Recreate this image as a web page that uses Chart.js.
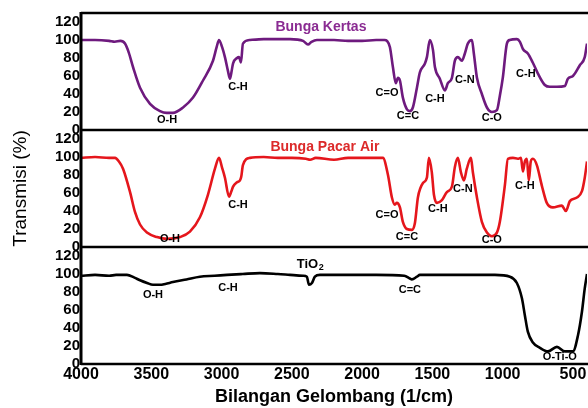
<!DOCTYPE html>
<html>
<head>
<meta charset="utf-8">
<script src="https://cdn.jsdelivr.net/npm/chart.js@4.4.1/dist/chart.umd.min.js"></script>
<style>
  html, body { margin: 0; padding: 0; background: #fff; }
  #wrap { position: relative; width: 588px; height: 408px; }
</style>
</head>
<body>
<div id="wrap"><canvas id="irChart"></canvas></div>
<script>
// Wavenumber ticks and transmittance ticks
var xTicks = [4000, 3500, 3000, 2500, 2000, 1500, 1000, 500];
var yTicks = [0, 20, 40, 60, 80, 100, 120];

// Bunga Kertas (purple)
var kertasWn = [4000, 3900, 3800, 3760, 3720, 3687, 3660, 3630, 3580, 3509, 3438, 3390, 3346, 3274, 3203, 3132, 3061, 3035, 3018, 2996,
  2976, 2955, 2940, 2930, 2918, 2890, 2876, 2862, 2848, 2798, 2700, 2600, 2513, 2420, 2385, 2360, 2321, 2200, 2100, 2000,
  1900, 1840, 1823, 1802, 1781, 1760, 1745, 1731, 1710, 1681, 1660, 1639, 1610, 1589, 1553, 1539, 1518, 1496, 1482, 1447,
  1411, 1390, 1361, 1340, 1319, 1290, 1269, 1248, 1219, 1205, 1183, 1148, 1112, 1077, 1041, 1020, 999, 970, 950, 899,
  877, 856, 821, 786, 750, 700, 664, 614, 557, 536, 500, 451, 416, 400];
var kertasT = [100, 100, 99, 98, 99, 96, 86, 70, 47, 29, 21, 19, 19, 25, 36, 55, 77, 92, 100, 92,
  81, 66, 57, 64, 74, 80, 81, 75, 96, 100, 101, 101, 101, 99, 95, 98, 100, 100, 99, 99,
  100, 100, 99, 92, 70, 52, 58, 55, 36, 23, 21, 25, 47, 64, 74, 81, 100, 89, 70, 57,
  44, 52, 58, 77, 81, 77, 85, 96, 100, 85, 58, 40, 25, 20, 22, 38, 58, 96, 100, 101,
  98, 90, 85, 75, 63, 50, 48, 48, 49, 57, 60, 72, 81, 96];

// Bunga Pacar Air (red)
var pacarWn = [4000, 3900, 3800, 3758, 3730, 3701, 3651, 3616, 3580, 3531, 3459, 3388, 3296, 3225, 3154, 3097, 3047, 3018, 2996, 2976,
  2947, 2930, 2918, 2890, 2869, 2860, 2848, 2798, 2700, 2600, 2500, 2400, 2370, 2330, 2200, 2100, 1950, 1852, 1816, 1788,
  1767, 1753, 1731, 1710, 1681, 1646, 1624, 1603, 1567, 1539, 1525, 1504, 1489, 1468, 1432, 1397, 1361, 1340, 1319, 1297,
  1276, 1255, 1226, 1212, 1183, 1148, 1112, 1077, 1041, 1020, 984, 963, 927, 892, 870, 856, 842, 828, 814, 800,
  785, 757, 721, 686, 643, 579, 550, 522, 472, 436, 416, 400];
var pacarT = [99, 100, 99, 99, 95, 87, 61, 39, 25, 16, 11, 9, 11, 17, 33, 58, 87, 99, 88, 77,
  56, 62, 67, 72, 74, 78, 91, 99, 100, 99, 99, 98, 97, 99, 97, 99, 99, 99, 80, 55,
  47, 49, 44, 28, 20, 19, 27, 55, 71, 77, 99, 83, 58, 49, 52, 61, 67, 89, 99, 83,
  74, 87, 99, 83, 55, 28, 16, 12, 16, 28, 69, 98, 99, 98, 99, 84, 95, 98, 74, 95,
  98, 91, 68, 49, 44, 46, 40, 51, 55, 62, 77, 95];

// TiO2 (black)
var tioWn = [4000, 3900, 3800, 3750, 3700, 3673, 3620, 3580, 3530, 3488, 3438, 3400, 3346, 3250, 3154, 3050, 2961, 2850, 2727, 2600,
  2513, 2420, 2393, 2378, 2357, 2336, 2300, 2100, 1900, 1700, 1660, 1646, 1610, 1589, 1400, 1200, 1055, 948, 899, 863,
  842, 821, 785, 735, 678, 614, 557, 500, 464, 436, 416, 400];
var tioT = [98, 99, 98, 99, 99, 99, 96, 93, 90, 88, 88, 89, 91, 94, 97, 98, 99, 100, 101, 100,
  99, 98, 97, 88, 90, 97, 99, 99, 99, 98, 95, 94, 97, 99, 99, 99, 99, 97, 90, 73,
  54, 36, 24, 18, 14, 19, 14, 14, 32, 58, 84, 100];

// band labels: text, wavenumber, transmittance
var kertasBands = [['O-H', 3388, 11], ['C-H', 2883, 48], ['C=O', 1823, 41], ['C=C', 1674, 16],
  ['C-H', 1482, 35], ['C-N', 1269, 56], ['C-O', 1077, 13], ['C-H', 835, 62]];
var pacarBands = [['O-H', 3367, 9], ['C-H', 2883, 47], ['C=O', 1823, 36], ['C=C', 1681, 11],
  ['C-H', 1461, 42], ['C-N', 1283, 64], ['C-O', 1077, 8], ['C-H', 842, 68]];
var tioBands = [['O-H', 3488, 77], ['C-H', 2954, 84], ['C=C', 1660, 82], ['O-Ti-O', 593, 8]];

var FONT = '"Liberation Sans", Arial, sans-serif';

function pairs(xs, ys) {
    return xs.map(function (x, i) { return { x: x, y: ys[i] }; });
}

function yScale() {
    return {
        type: 'linear',
        position: 'left',
        stack: 'ir',
        stackWeight: 1,
        min: 0,
        max: 130,
        afterBuildTicks: function (s) { s.ticks = yTicks.map(function (v) { return { value: v }; }); },
        afterFit: function (s) { s.width = 50; },
        grid: { display: false, drawTicks: false },
        border: { display: false },
        ticks: { color: '#000', padding: 1, autoSkip: false, font: { family: FONT, size: 15, weight: 'bold' } }
    };
}

var panelText = {
    id: 'panelText',
    afterDraw: function (chart) {
        var ctx = chart.ctx;
        var area = chart.chartArea;
        var xs = chart.scales.x;
        var panels = [
            { scale: chart.scales.yA, bands: kertasBands },
            { scale: chart.scales.yB, bands: pacarBands },
            { scale: chart.scales.yC, bands: tioBands }
        ];
        ctx.save();
        // frames
        ctx.strokeStyle = '#000';
        ctx.lineWidth = 2.5;
        ctx.beginPath();
        panels.forEach(function (p) {
            ctx.moveTo(area.left, p.scale.top);
            ctx.lineTo(area.right + 2, p.scale.top);
            ctx.moveTo(area.left, p.scale.bottom);
            ctx.lineTo(area.right + 2, p.scale.bottom);
        });
        ctx.stroke();
        ctx.lineWidth = 3;
        ctx.beginPath();
        ctx.moveTo(area.left, area.top - 1);
        ctx.lineTo(area.left, area.bottom + 1);
        ctx.stroke();

        // band labels
        ctx.fillStyle = '#000';
        ctx.textAlign = 'center';
        ctx.textBaseline = 'middle';
        ctx.font = 'bold 11px ' + FONT;
        panels.forEach(function (p) {
            p.bands.forEach(function (b) {
                ctx.fillText(b[0], xs.getPixelForValue(b[1]), p.scale.getPixelForValue(b[2]));
            });
        });

        // panel titles
        ctx.font = 'bold 14px ' + FONT;
        ctx.fillStyle = '#8a2b92';
        ctx.fillText('Bunga Kertas', xs.getPixelForValue(2293), chart.scales.yA.getPixelForValue(114));
        ctx.fillStyle = '#dc2a2a';
        ctx.fillText('Bunga Pacar Air', xs.getPixelForValue(2265), chart.scales.yB.getPixelForValue(111));

        ctx.fillStyle = '#000';
        ctx.font = 'bold 13px ' + FONT;
        var w1 = ctx.measureText('TiO').width;
        ctx.font = 'bold 9px ' + FONT;
        var w2 = ctx.measureText('2').width;
        var cx = xs.getPixelForValue(2371) - (w1 + w2) / 2;
        var cy = chart.scales.yC.getPixelForValue(111);
        ctx.textAlign = 'left';
        ctx.font = 'bold 13px ' + FONT;
        ctx.fillText('TiO', cx, cy);
        ctx.font = 'bold 9px ' + FONT;
        ctx.fillText('2', cx + w1 + 0.5, cy + 3);

        // y title
        ctx.font = '19px ' + FONT;
        ctx.textAlign = 'center';
        ctx.translate(21, (area.top + area.bottom) / 2);
        ctx.rotate(-Math.PI / 2);
        ctx.fillText('Transmisi (%)', 0, 0);
        ctx.restore();
    }
};

var ctx = document.getElementById('irChart').getContext('2d');
var irChart = new Chart(ctx, {
    type: 'line',
    data: {
        datasets: [
            { label: 'Bunga Kertas', data: pairs(kertasWn, kertasT), yAxisID: 'yA', borderColor: '#6e1a7e', borderWidth: 2.6 },
            { label: 'Bunga Pacar Air', data: pairs(pacarWn, pacarT), yAxisID: 'yB', borderColor: '#e5161c', borderWidth: 2.6 },
            { label: 'TiO2', data: pairs(tioWn, tioT), yAxisID: 'yC', borderColor: '#000', borderWidth: 2.6 }
        ]
    },
    options: {
        responsive: true,
        maintainAspectRatio: false,
        animation: false,
        cubicInterpolationMode: 'monotone',
        elements: { point: { radius: 0 } },
        layout: { padding: { top: 13, left: 31, right: 1, bottom: 0 } },
        plugins: { legend: { display: false }, tooltip: { enabled: false } },
        scales: {
            x: {
                type: 'linear',
                reverse: true,
                min: 400,
                max: 4000,
                afterBuildTicks: function (s) { s.ticks = xTicks.map(function (v) { return { value: v }; }); },
                afterFit: function (s) { s.height = 44; },
                grid: { display: false, drawTicks: false },
                border: { display: false },
                ticks: { color: '#000', padding: 1, maxRotation: 0, autoSkip: false,
                    callback: function (v) { return String(v); },
                    font: { family: FONT, size: 16, weight: 'bold' } },
                title: { display: true, text: 'Bilangan Gelombang (1/cm)', color: '#000', padding: { top: 3, bottom: 0 },
                    font: { family: FONT, size: 18, weight: 'bold' } }
            },
            yC: yScale(),
            yB: yScale(),
            yA: yScale()
        }
    },
    plugins: [panelText]
});
</script>
</body>
</html>
